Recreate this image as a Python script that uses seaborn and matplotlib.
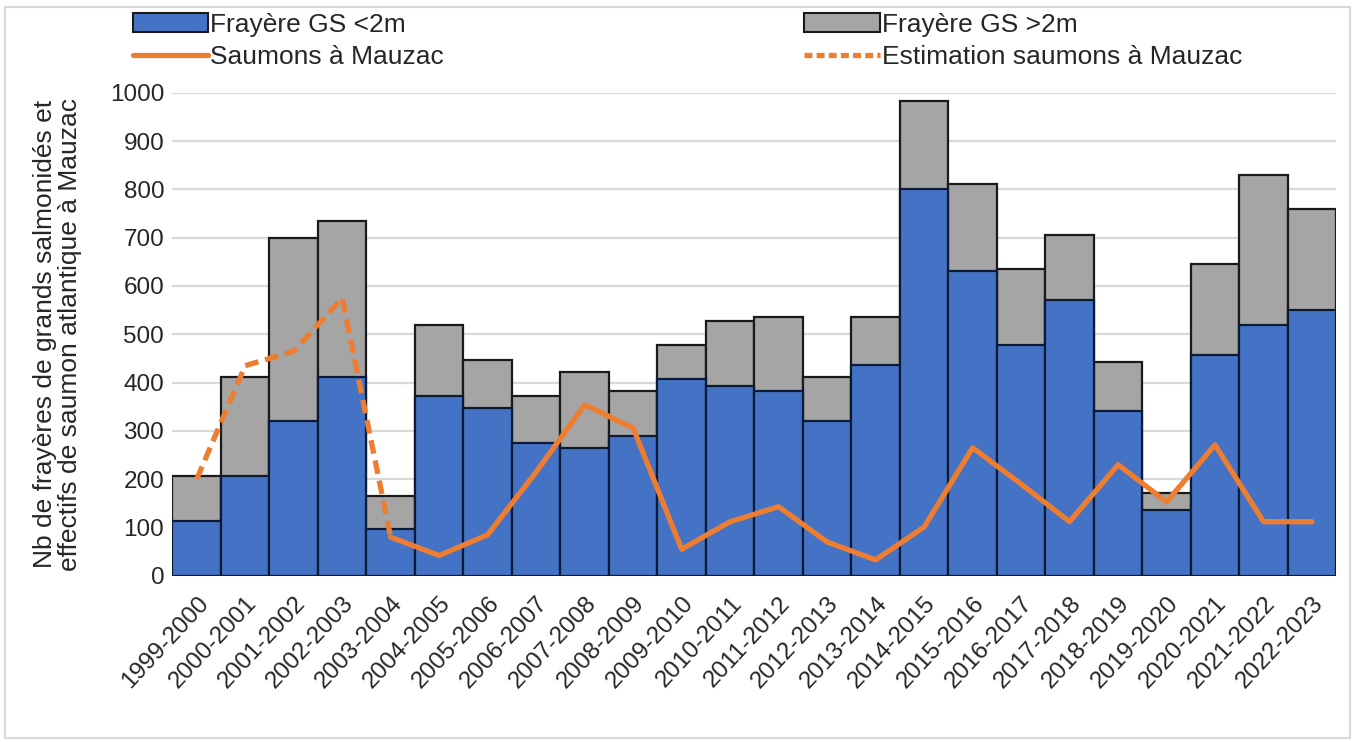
import numpy as np
import pandas as pd
import matplotlib
matplotlib.use("Agg")
import matplotlib.pyplot as plt
import seaborn as sns
from matplotlib.patches import Rectangle
from matplotlib.lines import Line2D
from matplotlib.patches import Patch

categories = ["1999-2000", "2000-2001", "2001-2002", "2002-2003", "2003-2004",
              "2004-2005", "2005-2006", "2006-2007", "2007-2008", "2008-2009",
              "2009-2010", "2010-2011", "2011-2012", "2012-2013", "2013-2014",
              "2014-2015", "2015-2016", "2016-2017", "2017-2018", "2018-2019",
              "2019-2020", "2020-2021", "2021-2022", "2022-2023"]
frayere_lt2m = [113, 207, 320, 412, 97, 372, 347, 275, 265, 290, 407, 392, 382,
                320, 437, 800, 630, 477, 570, 342, 137, 457, 520, 550]
frayere_gt2m = [94, 205, 380, 323, 68, 148, 100, 97, 157, 92, 71, 136, 153,
                92, 98, 183, 182, 158, 136, 101, 35, 188, 310, 210]
saumons = [np.nan, np.nan, np.nan, np.nan, 80, 42, 85, 215, 354, 306, 55, 112,
           143, 70, 33, 101, 265, 190, 112, 230, 153, 271, 112, 112]
estimation = [200, 435, 465, 575, 80] + [np.nan] * 19

sns.set_theme(style="white")
plt.rcParams['font.family'] = ['Liberation Sans', 'DejaVu Sans']

BLUE = "#4472C4"
GREY = "#A5A5A5"
ORANGE = "#ED7D31"

totals = [a + b for a, b in zip(frayere_lt2m, frayere_gt2m)]
df = pd.DataFrame({"cat": categories, "lt2": frayere_lt2m, "total": totals,
                   "idx": np.arange(len(categories)),
                   "saumons": saumons, "estimation": estimation})

fig = plt.figure(figsize=(13.58, 7.42), dpi=100)
ax = fig.add_axes([0.127, 0.224, 0.857, 0.651])

sns.barplot(data=df, x="cat", y="total", color=GREY, saturation=1, width=1.0,
            edgecolor="#1a1a1a", linewidth=1.6, ax=ax, zorder=2)
sns.barplot(data=df, x="cat", y="lt2", color=BLUE, saturation=1, width=1.0,
            edgecolor="#0d1a33", linewidth=1.6, ax=ax, zorder=3)

est = df.dropna(subset=["estimation"])
sau = df.dropna(subset=["saumons"])
sns.lineplot(x=est["idx"], y=est["estimation"], color=ORANGE, lw=3.8, ax=ax,
             zorder=4).lines[-1].set_dashes((2.6, 1.3))
sns.lineplot(x=sau["idx"], y=sau["saumons"], color=ORANGE, lw=3.8, ax=ax, zorder=5)

ax.set_xlim(-0.5, len(categories) - 0.5)
ax.set_ylim(0, 1000)
ax.set_yticks(np.arange(0, 1001, 100))
ax.yaxis.grid(True, color="#D9D9D9", lw=1.6, zorder=0)
ax.set_axisbelow(True)
for s in ax.spines.values():
    s.set_visible(False)
ax.tick_params(axis="y", labelsize=17.5, pad=6, colors="#262626", length=0)
ax.tick_params(axis="x", labelsize=17.5, length=0, pad=12, colors="#262626")
ax.set_xticks(range(len(categories)))
ax.set_xticklabels(categories, rotation=47, ha="right", rotation_mode="anchor")
ax.set_xlabel("")
ax.set_ylabel("Nb de frayères de grands salmonidés et\neffectifs de saumon atlantique à Mauzac",
              fontsize=19, color="#262626", labelpad=20, linespacing=1.05)

handles = [Patch(facecolor=BLUE, edgecolor="#1a1a1a", lw=1.5),
           Line2D([], [], color=ORANGE, lw=3.8),
           Patch(facecolor=GREY, edgecolor="#1a1a1a", lw=1.5),
           Line2D([], [], color=ORANGE, lw=3.8, dashes=(1.5, 0.8))]
labels = ["Frayère GS <2m", "Saumons à Mauzac", "Frayère GS >2m",
          "Estimation saumons à Mauzac"]
fig.legend(handles, labels, ncol=2, loc="upper left", bbox_to_anchor=(0.086, 1.004),
           frameon=False, fontsize=19, handlelength=2.85, handletextpad=0.1,
           columnspacing=13.65, labelspacing=0.3, borderaxespad=0.2)

fig.patches.append(Rectangle((0.004, 0.006), 0.99, 0.985, transform=fig.transFigure,
                             fill=False, edgecolor="#D9D9D9", lw=1.5))

fig.savefig("out.png", dpi=100)
